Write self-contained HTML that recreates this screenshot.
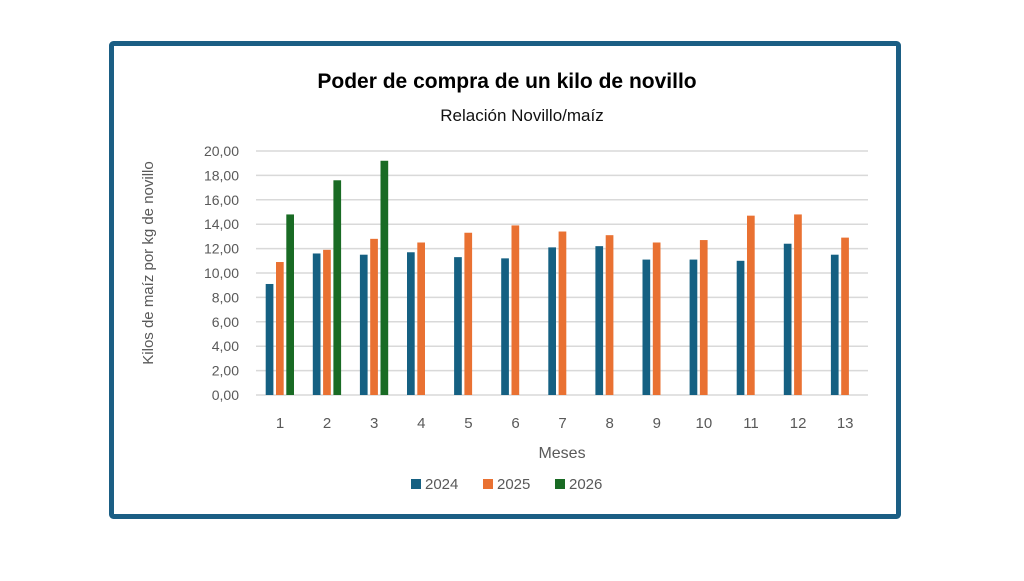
<!DOCTYPE html>
<html><head><meta charset="utf-8"><style>
body{margin:0;background:#fff;width:1024px;height:576px;overflow:hidden;font-family:"Liberation Sans",sans-serif}
</style></head><body>
<svg width="1024" height="576" xmlns="http://www.w3.org/2000/svg" font-family="Liberation Sans, sans-serif">
<rect x="111.5" y="43.5" width="787" height="473" rx="2" fill="#fff" stroke="#1b5e84" stroke-width="5"/>
<text x="507" y="88" text-anchor="middle" font-size="21" font-weight="bold" fill="#000">Poder de compra de un kilo de novillo</text>
<text x="522" y="121" text-anchor="middle" font-size="17" fill="#111">Relación Novillo/maíz</text>
<g id="grid" stroke="#d9d9d9" stroke-width="1.5"></g>
<g id="ylab" font-size="14" fill="#595959" text-anchor="end"></g>
<g id="bars"></g>
<g id="xlab" font-size="15" fill="#595959" text-anchor="middle"></g>
<text transform="translate(153,263) rotate(-90)" text-anchor="middle" font-size="15" fill="#595959">Kilos de maíz por kg de novillo</text>
<text x="562" y="458" text-anchor="middle" font-size="16" fill="#595959">Meses</text>
<g font-size="15" fill="#595959">
<rect x="411" y="479" width="10" height="10" fill="#156082"/><text x="425" y="489">2024</text>
<rect x="483" y="479" width="10" height="10" fill="#e97132"/><text x="497" y="489">2025</text>
<rect x="555" y="479" width="10" height="10" fill="#196b24"/><text x="569" y="489">2026</text>
</g>
</svg>
<script>
const ns="http://www.w3.org/2000/svg";
function el(p,t,a,txt){const e=document.createElementNS(ns,t);for(const k in a)e.setAttribute(k,a[k]);if(txt!=null)e.textContent=txt;document.getElementById(p).appendChild(e);}
const y0=395,k=12.2;
for(let v=0;v<=20;v+=2){const y=y0-v*k;el("grid","line",{x1:256,x2:868,y1:y,y2:y});el("ylab","text",{x:239,y:y+5},v.toFixed(2).replace(".",","));}
const d=[[9.1,11.6,11.5,11.7,11.3,11.2,12.1,12.2,11.1,11.1,11.0,12.4,11.5],[10.9,11.9,12.8,12.5,13.3,13.9,13.4,13.1,12.5,12.7,14.7,14.8,12.9],[14.8,17.6,19.2]];
const c=["#156082","#e97132","#196b24"];
for(let i=0;i<13;i++){const cx=280+i*47.1;el("xlab","text",{x:cx,y:428},i+1);
for(let s=0;s<3;s++){const v=d[s][i];if(v==null)continue;const x=cx-14.3+s*10.3;el("bars","rect",{x:x,y:y0-v*k,width:7.7,height:v*k,fill:c[s]});}}
</script>
</body></html>
